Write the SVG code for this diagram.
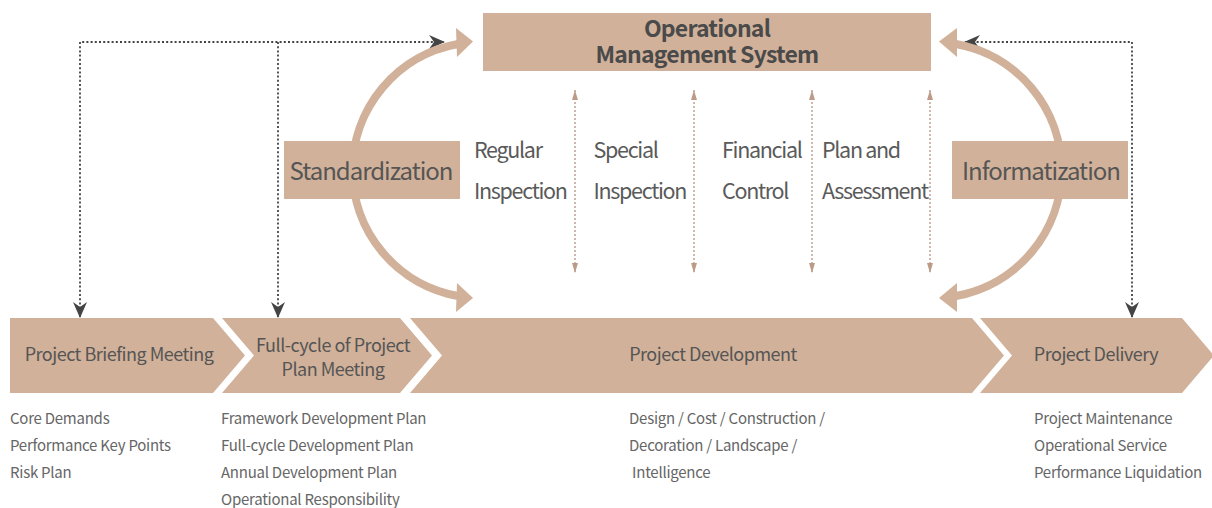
<svg xmlns="http://www.w3.org/2000/svg" width="1212" height="508" viewBox="0 0 1212 508">
<style>
  .box { fill: #D1B199; }
  .t { font-family: "Noto Sans CJK SC", "Noto Sans", sans-serif; fill: #555555; }
  .title { font-size: 23px; font-weight: 600; text-anchor: middle; fill: #4a4a4a; letter-spacing: -0.8px; }
  .side { font-size: 24px; text-anchor: middle; fill: #555555; letter-spacing: -1px; }
  .mid { font-size: 21.5px; fill: #5a5a5a; letter-spacing: -1.3px; }
  .chev { font-size: 18px; text-anchor: middle; fill: #555555; letter-spacing: -0.5px; }
  .list { font-size: 15px; fill: #666666; letter-spacing: -0.25px; }
  .dark { fill: none; stroke: #444444; stroke-width: 1.8; stroke-dasharray: 2 2.2; }
  .thin { fill: none; stroke: #BC9C88; stroke-width: 1.4; stroke-dasharray: 2 2; }
  .arc { fill: none; stroke: #D1B199; stroke-width: 8; }
</style>
<defs>
  <marker id="darkArrow" viewBox="0 0 16 14" refX="15" refY="7" markerWidth="16" markerHeight="14" markerUnits="userSpaceOnUse" orient="auto-start-reverse">
    <path d="M0,0 L16,7 L0,14 L5,7 Z" fill="#444444"/>
  </marker>
  <marker id="tanArrow" viewBox="0 0 10 6" refX="10" refY="3" markerWidth="10" markerHeight="6" markerUnits="userSpaceOnUse" orient="auto-start-reverse">
    <path d="M0,0 L10,3 L0,6 Z" fill="#BC9C88"/>
  </marker>
</defs>

<g id="connectors">
  <path class="dark" d="M80,317 V42 H444" marker-start="url(#darkArrow)" marker-end="url(#darkArrow)"/>
  <path class="dark" d="M278,42 V317" marker-end="url(#darkArrow)"/>
  <path class="dark" d="M1132,317 V42 H965" marker-start="url(#darkArrow)" marker-end="url(#darkArrow)"/>
  <path class="thin" d="M575,90 V273" marker-start="url(#tanArrow)" marker-end="url(#tanArrow)"/>
  <path class="thin" d="M694,90 V273" marker-start="url(#tanArrow)" marker-end="url(#tanArrow)"/>
  <path class="thin" d="M812,90 V273" marker-start="url(#tanArrow)" marker-end="url(#tanArrow)"/>
  <path class="thin" d="M930,90 V273" marker-start="url(#tanArrow)" marker-end="url(#tanArrow)"/>
  <path class="arc" d="M458,44 A128,128 0 0 0 458,296"/>
  <polygon class="box" points="456,28 473,41.5 457,57"/>
  <polygon class="box" points="457,283 473,298 456,312"/>
  <path class="arc" d="M956,44 A128,128 0 0 1 956,296"/>
  <polygon class="box" points="957,28 939,41.5 957,57"/>
  <polygon class="box" points="957,283 939,298 957,312"/>
</g>

<g id="oms">
  <rect class="box" x="483" y="13" width="448" height="58"/>
  <text class="t title" x="707" y="37">Operational</text>
  <text class="t title" x="707" y="62.5">Management System</text>
</g>

<g id="standardization">
  <rect class="box" x="284" y="141" width="176" height="58"/>
  <text class="t side" x="371" y="180">Standardization</text>
</g>

<g id="informatization">
  <rect class="box" x="952" y="141" width="176" height="58"/>
  <text class="t side" x="1041" y="180">Informatization</text>
</g>

<g id="regular-inspection">
  <text class="t mid" x="474" y="157.5">Regular</text>
  <text class="t mid" x="474" y="199">Inspection</text>
</g>
<g id="special-inspection">
  <text class="t mid" x="593.5" y="157.5">Special</text>
  <text class="t mid" x="593.5" y="199">Inspection</text>
</g>
<g id="financial-control">
  <text class="t mid" x="722" y="157.5">Financial</text>
  <text class="t mid" x="722" y="199">Control</text>
</g>
<g id="plan-assessment">
  <text class="t mid" x="822" y="157.5">Plan and</text>
  <text class="t mid" x="822" y="199">Assessment</text>
</g>

<g id="briefing">
  <path class="box" d="M10,318 L213,318 L245,355.5 L213,393 L10,393 Z"/>
  <text class="t chev" x="119" y="361">Project Briefing Meeting</text>
  <text class="t list" x="10" y="424">Core Demands</text>
  <text class="t list" x="10" y="451">Performance Key Points</text>
  <text class="t list" x="10" y="478">Risk Plan</text>
</g>

<g id="full-cycle">
  <path class="box" d="M222,318 L400,318 L432,355.5 L400,393 L222,393 L254,355.5 Z"/>
  <text class="t chev" x="333" y="351.5">Full-cycle of Project</text>
  <text class="t chev" x="333" y="376">Plan Meeting</text>
  <text class="t list" x="221" y="424">Framework Development Plan</text>
  <text class="t list" x="221" y="451">Full-cycle Development Plan</text>
  <text class="t list" x="221" y="478">Annual Development Plan</text>
  <text class="t list" x="221" y="505">Operational Responsibility</text>
</g>

<g id="development">
  <path class="box" d="M410,318 L972,318 L1004,355.5 L972,393 L410,393 L442,355.5 Z"/>
  <text class="t chev" x="713" y="361">Project Development</text>
  <text class="t list" x="629" y="424">Design / Cost / Construction /</text>
  <text class="t list" x="629" y="451">Decoration / Landscape /</text>
  <text class="t list" x="629" y="478" xml:space="preserve"> Intelligence</text>
</g>

<g id="delivery">
  <path class="box" d="M980,318 L1182,318 L1214,355.5 L1182,393 L980,393 L1012,355.5 Z"/>
  <text class="t chev" x="1096" y="361">Project Delivery</text>
  <text class="t list" x="1034" y="424">Project Maintenance</text>
  <text class="t list" x="1034" y="451">Operational Service</text>
  <text class="t list" x="1034" y="478">Performance Liquidation</text>
</g>
</svg>
